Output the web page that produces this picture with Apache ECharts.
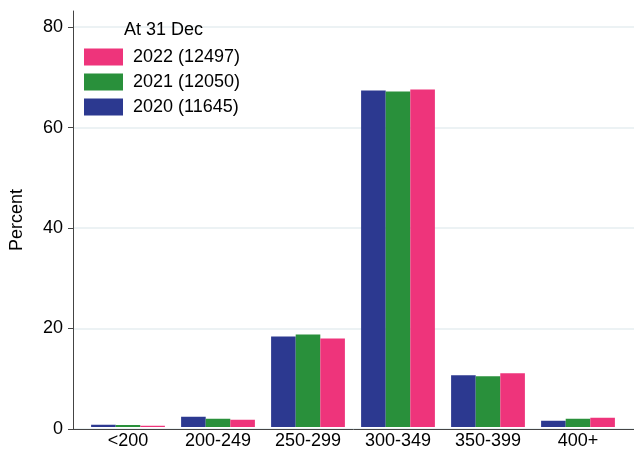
<!DOCTYPE html>
<html><head><meta charset="utf-8">
<script src="https://cdn.jsdelivr.net/npm/echarts@6/dist/echarts.min.js"></script>
<style>html,body{margin:0;padding:0;background:#fff}#c{width:634px;height:450px}</style>
</head><body><div id="c"></div>
<script>
var categories = ['<200', '200-249', '250-299', '300-349', '350-399', '400+'];
var s2020 = [0.45, 2.05, 18.1, 67.3, 10.35, 1.25];
var s2021 = [0.4, 1.65, 18.5, 67.1, 10.15, 1.65];
var s2022 = [0.25, 1.45, 17.7, 67.5, 10.75, 1.85];
var seriesNames = ['2020 (11645)', '2021 (12050)', '2022 (12497)'];
var legendTitle = 'At 31 Dec';
var yTicks = [0, 20, 40, 60, 80];
var yName = 'Percent';

var FONT = '"Liberation Sans", Arial, sans-serif';
var colors = ['#2c3990', '#29903b', '#ee347b'];
var chart = echarts.init(document.getElementById('c'), null, {renderer: 'canvas'});
var YMAX = 83.2;
chart.setOption({
  animation: false,
  textStyle: {fontFamily: FONT},
  title: {text: legendTitle, left: 124, top: 21, padding: 0,
    textStyle: {fontFamily: FONT, fontSize: 18, fontWeight: 'normal', color: '#000'}},
  legend: {
    orient: 'vertical', left: 84, top: 48, padding: 0,
    itemWidth: 39, itemHeight: 17, itemGap: 7, icon: 'rect',
    data: [seriesNames[2], seriesNames[1], seriesNames[0]],
    textStyle: {fontFamily: FONT, fontSize: 18, color: '#000', padding: [0, 0, 0, 5]}
  },
  grid: [
    {left: 83, right: 11, top: 11, bottom: 21},
    {left: 70, right: 0, top: 11, bottom: 21}
  ],
  xAxis: [
    {type: 'category', gridIndex: 0, data: categories,
      axisLine: {show: false}, axisTick: {show: false},
      axisLabel: {margin: 5, fontFamily: FONT, fontSize: 18, color: '#000'}},
    {type: 'value', gridIndex: 1, min: 0, max: 1,
      axisLine: {show: true, lineStyle: {color: '#444', width: 1}},
      axisTick: {show: false}, axisLabel: {show: false}, splitLine: {show: false}}
  ],
  yAxis: [
    {type: 'value', gridIndex: 0, min: 0, max: YMAX, show: false},
    {type: 'value', gridIndex: 1, min: 0, max: YMAX, interval: 20,
      name: yName, nameLocation: 'middle', nameGap: 47,
      nameTextStyle: {fontFamily: FONT, fontSize: 18, color: '#000'},
      axisLine: {show: true, lineStyle: {color: '#444', width: 1}},
      axisTick: {show: true, length: 5, lineStyle: {color: '#444'}, customValues: yTicks},
      axisLabel: {margin: 10, fontFamily: FONT, fontSize: 18, color: '#000', customValues: yTicks},
      splitLine: {show: true, lineStyle: {color: '#e6eef0', width: 1.5}}}
  ],
  series: [
    {name: seriesNames[0], type: 'bar', data: s2020, itemStyle: {color: colors[0]}, barGap: '0%', barCategoryGap: '18%'},
    {name: seriesNames[1], type: 'bar', data: s2021, itemStyle: {color: colors[1]}, barGap: '0%', barCategoryGap: '18%'},
    {name: seriesNames[2], type: 'bar', data: s2022, itemStyle: {color: colors[2]}, barGap: '0%', barCategoryGap: '18%'}
  ]
});
</script></body></html>
